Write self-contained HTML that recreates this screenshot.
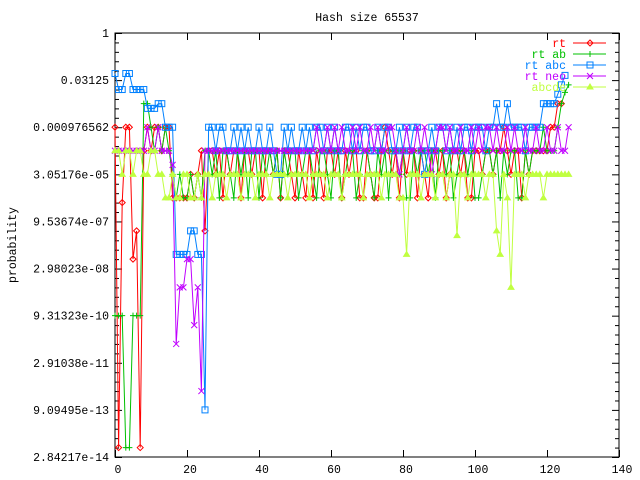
<!DOCTYPE html>
<html><head><meta charset="utf-8"><style>
html,body{margin:0;padding:0;background:#fff;}
svg{display:block;font-family:"Liberation Mono",monospace;font-size:11.5px;}
</style></head><body>
<svg id="chart" width="640" height="480">
<g id="axes"></g>
<g id="series"></g>
<g id="legend"></g>
<text x="367" y="21" text-anchor="middle">Hash size 65537</text>
<text transform="translate(16,245) rotate(-90)" text-anchor="middle">probability</text>
</svg>
<script>
// log2(probability) per x index
const xTicks = [0,20,40,60,80,100,120,140];
const yTickExps = [0,-5,-10,-15,-20,-25,-30,-35,-40,-45];
const yTickLabels = ["1","0.03125","0.000976562","3.05176e-05","9.53674e-07","2.98023e-08","9.31323e-10","2.91038e-11","9.09495e-13","2.84217e-14"];
const seriesNames = ["rt","rt ab","rt abc","rt neo","abcde"];
const seriesColors = ["#ff0000","#00c000","#0080ff","#c000ff","#c0ff40"];
const rtValues = [-10,-44,-18,-10,-10,-24,-21,-44,-12.5,-10,-12.5,-10,-10,-12.5,-10,-10,-17.5,-17.5,-17.5,-17.5,-17.5,-15,-17.5,-15,-12.5,-21,
-12.5,-12.5,-15,-12.5,-17.5,-12.5,-15,-12.5,-12.5,-17.5,
-12.5,
-12.5,-15,-12.5,-12.5,-17.5,-12.5,-12.5,-15,-12.5,-17.5,
-12.5,-12.5,-15,-17.5,-12.5,-15,-17.5,-12.5,-17.5,-12.5,
-15,-17.5,-12.5,-12.5,-15,-12.5,-17.5,-12.5,-15,-12.5,
-12.5,-17.5,-17.5,-12.5,-15,-17.5,-17.5,-12.5,-10,-12.5,
-15,-12.5,-17.5,-12.5,-15,-12.5,-12.5,-17.5,-12.5,-15,
-17.5,-12.5,-12.5,-15,-12.5,-17.5,-15,-12.5,-12.5,-15,
-12.5,-17.5,-17.5,-12.5,-12.5,-15,-12.5,-12.5,-15,-12.5,
-12.5,-10,-12.5,-15,-12.5,-12.5,-17.5,-12.5,-15,-12.5,
-12.5,-12.5,-12.5,-12.5,-10,-10,-7.5,-7.5];
const rtAbValues = [-30,-30,-30,-44,-44,-30,-30,-30,-7.5,-7.5,-10,-12.5,-10,-12.5,-10,-12.5,-15,-17.5,-15,-17.5,-17.5,-15,-17.5,-15,-17.5,-12.5,
-12.5,-15,-12.5,-17.5,-12.5,-12.5,-15,-17.5,-12.5,-15,
-12.5,-17.5,
-12.5,-12.5,-17.5,-12.5,-15,-12.5,-15,-12.5,-17.5,-12.5,
-15,-12.5,-12.5,-17.5,-15,-12.5,-12.5,-15,-17.5,-12.5,
-12.5,-15,-17.5,-12.5,-12.5,-17.5,-15,-12.5,-12.5,-17.5,
-15,-12.5,-12.5,-15,-17.5,-12.5,-15,-12.5,-17.5,-12.5,
-12.5,-15,-12.5,-17.5,-17.5,-12.5,-15,-12.5,-12.5,-15,
-12.5,-17.5,-12.5,-12.5,-15,-12.5,-17.5,-15,-12.5,-12.5,
-15,-12.5,-17.5,-17.5,-15,-12.5,-12.5,-15,-12.5,-17.5,
-12.5,-15,-12.5,-12.5,-17.5,-17.5,-12.5,-15,-12.5,-12.5,
-12.5,-10,-12.5,-12.5,-12.5,-10,-7.5,-6.3,-5.5];
const rtAbcValues = [-4.3,-6,-6,-4.3,-4.3,-6,-6,-6,-6,-8,-8,-8,-7.5,-7.5,-10,-10,-10,-23.5,-23.5,-23.5,-23.5,-21,-21,-23.5,-23.5,-40,
-10,-10,-12.5,-10,-10,-12.5,-12.5,-10,-12.5,-10,
-12.5,-10,-12.5,-12.5,-10,
-12.5,-12.5,-10,-12.5,-15,-15,-10,-12.5,-10,-12.5,
-12.5,-10,-12.5,-10,-12.5,-10,-10,-12.5,-10,-12.5,
-10,-12.5,-12.5,-10,-10,-12.5,-10,-12.5,-10,-10,
-12.5,-12.5,-10,-12.5,-10,-10,-12.5,-12.5,-10,-12.5,
-10,-12.5,-10,-10,-12.5,-15,-12.5,-10,-12.5,-10,
-10,-12.5,-10,-12.5,-10,-12.5,-10,-10,-12.5,-10,
-10,-10,-12.5,-10,-10,-7.5,-10,-10,-7.5,-10,
-10,-10,-10,-12.5,-10,-10,-10,-10,-7.5,-7.5,
-7.5,-7.5,-6.5,-5.5,-4.5];
const rtNeoValues = [-12.5,-12.5,-12.5,-12.5,-12.5,-12.5,-12.5,-12.5,-12.5,-10,-12.5,-12.5,-10,-12.5,-12.5,-12.5,-14,-33,-27,-27,-24,-24,-31,-27,-38,-12.5,
-12.5,-12.5,-12.5,-12.5,-12.5,-12.5,-12.5,-12.5,-12.5,-12.5,
-12.5,-12.5,-12.5,-12.5,-12.5,
-12.5,-12.5,-12.5,-12.5,-12.5,-12.5,-12.5,-12.5,-12.5,-12.5,
-12.5,-12.5,-12.5,-12.5,-12.5,-10,-12.5,-12.5,-10,-12.5,
-10,-12.5,-10,-12.5,-12.5,-10,-12.5,-10,-12.5,-12.5,
-10,-12.5,-10,-12.5,-12.5,-10,-10,-12.5,-15,-12.5,
-10,-12.5,-12.5,-10,-12.5,-10,-12.5,-15,-12.5,-10,
-10,-12.5,-10,-12.5,-12.5,-10,-12.5,-12.5,-10,-12.5,
-10,-12.5,-10,-10,-12.5,-10,-12.5,-12.5,-10,-12.5,
-10,-12.5,-12.5,-10,-12.5,-12.5,-10,-12.5,-12.5,-10,
-12.5,-12.5,-10,-12.5,-12.5,-10];
const abcdeValues = [-12.5,-12.5,-15,-12.5,-12.5,-15,-12.5,-12.5,-15,-15,-12.5,-12.5,-15,-15,-17.5,-17.5,-15,-17.5,-17.5,-15,-15,-17.5,-17.5,-15,-17.5,-15,
-15,-17.5,-15,-15,-15,-17.5,-15,-15,-15,-17.5,
-15,-15,-15,-17.5,-15,
-15,-15,-17.5,-15,-15,-15,-15,-17.5,-15,-15,
-15,-15,-15,-17.5,-15,-15,-15,-15,-17.5,-15,
-15,-15,-17.5,-15,-15,-15,-15,-15,-17.5,-15,
-15,-15,-15,-17.5,-15,-15,-15,-15,-17.5,-17.5,
-23.5,-15,-15,-15,-17.5,-15,-15,-15,-17.5,-15,
-15,-17.5,-15,-15,-21.5,-15,-15,-17.5,-15,-15,
-15,-15,-17.5,-15,-15,-21,-23.5,-15,-17.5,-27,
-15,-15,-15,-17.5,-15,-15,-15,-15,-17.5,-15,
-15,-15,-15,-15,-15,-15];
const allSeries = [rtValues, rtAbValues, rtAbcValues, rtNeoValues, abcdeValues];

const L=115, R=619, T=33, B=457;
const xScale = v => L + (v - 0) / 140 * (R - L);
const yScale = e => T + (-e) / 45 * (B - T);
const NS="http://www.w3.org/2000/svg";
function mk(tag, attrs, parent){const el=document.createElementNS(NS,tag);for(const k in attrs)el.setAttribute(k,attrs[k]);parent.appendChild(el);return el;}

const axes=document.getElementById('axes');
const frame=mk('rect',{x:L,y:T,width:R-L,height:B-T,fill:'none',stroke:'#000','stroke-width':1},axes);


for(let e=0;e>=-45;e--){
  const y=yScale(e)+0.5, len=(e%5===0)?7:4;
  const t1=mk('line',{x1:L,x2:L+len,y1:y,y2:y,stroke:'#000'},axes);
  
  
  const t2=mk('line',{x1:R,x2:R-len,y1:y,y2:y,stroke:'#000'},axes);
  
  
}
yTickExps.forEach((e,i)=>{
  const t=mk('text',{x:L-6,y:yScale(e)+4,'text-anchor':'end'},axes);
  t.textContent=yTickLabels[i];
  
  
});
xTicks.forEach(v=>{
  const x=xScale(v)+0.5;
  const a=mk('line',{x1:x,x2:x,y1:B,y2:B-7,stroke:'#000'},axes);
  
  
  const b=mk('line',{x1:x,x2:x,y1:T,y2:T+7,stroke:'#000'},axes);
  
  
  const t=mk('text',{x:xScale(v)+3,y:B+16,'text-anchor':'middle'},axes);
  t.textContent=String(v);
  
  
});

function marker(kind,x,y,c,parent){
  let el;
  if(kind===0) el=mk('path',{d:`M${x-3} ${y}L${x} ${y-3}L${x+3} ${y}L${x} ${y+3}Z`,fill:'none',stroke:c},parent);
  else if(kind===1) el=mk('path',{d:`M${x-3} ${y}H${x+3}M${x} ${y-3}V${y+3}`,stroke:c},parent);
  else if(kind===2) el=mk('rect',{x:x-3,y:y-3,width:6,height:6,fill:'none',stroke:c},parent);
  else if(kind===3) el=mk('path',{d:`M${x-3} ${y-3}L${x+3} ${y+3}M${x-3} ${y+3}L${x+3} ${y-3}`,stroke:c},parent);
  else el=mk('path',{d:`M${x-3} ${y+2}L${x} ${y-3}L${x+3} ${y+2}Z`,fill:c,stroke:c},parent);
  
  
}
const sg=document.getElementById('series');
allSeries.forEach((vals,si)=>{
  const g=mk('g',{},sg);
  
  
  const pts=vals.map((v,i)=>xScale(i).toFixed(1)+','+yScale(v).toFixed(1)).join(' ');
  const line=mk('polyline',{points:pts,fill:'none',stroke:seriesColors[si],'stroke-width':1},g);
  
  
  vals.forEach((v,i)=>marker(si,xScale(i),yScale(v),seriesColors[si],g));
});
const lg=document.getElementById('legend');
seriesNames.forEach((n,i)=>{
  const y=43+i*11;
  const g=mk('g',{},lg);
  
  
  const t=mk('text',{x:566,y:y+4,'text-anchor':'end',fill:seriesColors[i]},g);
  t.textContent=n;
  const l=mk('line',{x1:573,x2:606,y1:y,y2:y,stroke:seriesColors[i]},g);
  
  
  marker(i,590,y,seriesColors[i],g);
});
</script>
</body></html>
